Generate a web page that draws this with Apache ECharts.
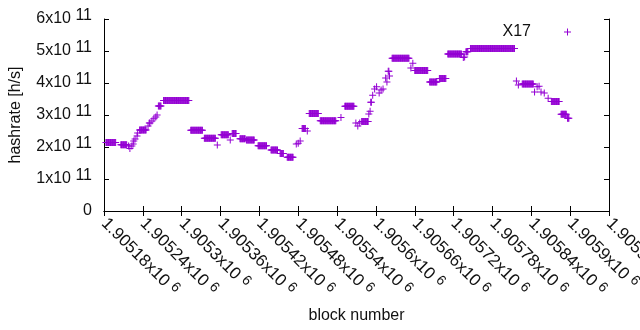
<!DOCTYPE html>
<html>
<head>
<meta charset="utf-8">
<script src="https://cdn.jsdelivr.net/npm/echarts@6/dist/echarts.min.js"></script>
<style>
  html, body { margin: 0; padding: 0; background: #fff; }
  #chart { width: 640px; height: 330px; }
</style>
</head>
<body>
<div id="chart"></div>
<script>
// hashrate runs: first block, last block, value in units of 1e11 h/s
var runStart = [1905183, 1905206, 1905218, 1905220, 1905223, 1905225, 1905226, 1905228, 1905231, 1905232,
    1905235, 1905248, 1905250, 1905254, 1905257, 1905260, 1905262, 1905264, 1905272, 1905314,
    1905335, 1905355, 1905361, 1905375, 1905378, 1905390, 1905400, 1905418, 1905438, 1905452,
    1905463, 1905477, 1905480, 1905483, 1905486, 1905494, 1905497, 1905514, 1905546, 1905552,
    1905569, 1905572, 1905575, 1905578, 1905589, 1905591, 1905592, 1905595, 1905598, 1905601,
    1905605, 1905608, 1905611, 1905615, 1905617, 1905619, 1905621, 1905625, 1905654, 1905657,
    1905660, 1905683, 1905698, 1905711, 1905735, 1905737, 1905739, 1905746, 1905817, 1905820,
    1905826, 1905845, 1905849, 1905852, 1905855, 1905860, 1905866, 1905871, 1905886, 1905896];
var runEnd = [1905198, 1905215, 1905218, 1905220, 1905223, 1905225, 1905226, 1905228, 1905231, 1905232,
    1905245, 1905248, 1905251, 1905254, 1905257, 1905260, 1905262, 1905268, 1905311, 1905332,
    1905352, 1905355, 1905372, 1905375, 1905384, 1905398, 1905412, 1905431, 1905448, 1905457,
    1905472, 1905477, 1905480, 1905483, 1905491, 1905494, 1905511, 1905538, 1905546, 1905566,
    1905569, 1905572, 1905575, 1905588, 1905589, 1905591, 1905593, 1905595, 1905598, 1905601,
    1905605, 1905608, 1905611, 1905615, 1905617, 1905620, 1905621, 1905651, 1905654, 1905657,
    1905680, 1905694, 1905708, 1905732, 1905735, 1905737, 1905742, 1905814, 1905817, 1905820,
    1905843, 1905845, 1905849, 1905852, 1905855, 1905860, 1905866, 1905883, 1905894, 1905898];
var runValue = [2.14, 2.07, 2.03, 1.95, 2.03, 2.09, 2.19, 2.25, 2.34, 2.44,
    2.53, 2.66, 2.75, 2.81, 2.88, 2.94, 3.0, 3.28, 3.45, 2.52,
    2.27, 2.06, 2.38, 2.22, 2.42, 2.26, 2.22, 2.04, 1.91, 1.80,
    1.68, 2.09, 2.12, 2.19, 2.58, 2.5, 3.05, 2.82, 2.92, 3.27,
    2.75, 2.66, 2.75, 2.8, 3.03, 3.12, 3.4, 3.62, 3.81, 3.88,
    3.69, 3.78, 3.81, 4.16, 4.03, 4.37, 4.22, 4.77, 4.47, 4.62,
    4.39, 4.03, 4.14, 4.91, 4.8, 4.81, 4.98, 5.08, 4.06, 3.94,
    3.97, 3.72, 3.88, 3.9, 3.72, 3.69, 3.52, 3.42, 3.02, 2.9];

var blockMin = 1905180, blockMax = 1905960, blockStep = 60;
var rateTicks = [0, 1, 2, 3, 4, 5, 6];

var points = [];
for (var i = 0; i < runStart.length; i++) {
    for (var b = runStart[i]; b <= runEnd[i]; b++) {
        points.push([b, runValue[i]]);
    }
}

var plus = 'path://M3,0h1v3h3v1h-3v3h-1v-3h-3v-1h3z';
var purple = '#9400d3';
var ink = '#111';
var font = 'Liberation Sans, Arial, sans-serif';

var chart = echarts.init(document.getElementById('chart'));
chart.setOption({
    animation: false,
    backgroundColor: '#fff',
    textStyle: { fontFamily: font },
    grid: { left: 104, right: 31, top: 19, bottom: 119, containLabel: false, outerBoundsMode: 'none' },
    legend: {
        data: ['X17'],
        right: 69,
        top: 24,
        padding: 0,
        align: 'right',
        icon: plus,
        itemWidth: 7,
        itemHeight: 7,
        textStyle: { fontSize: 16, color: ink, fontFamily: font, padding: [0, 28, 0, 0] }
    },
    xAxis: [{
        type: 'value',
        min: blockMin,
        max: blockMax,
        interval: blockStep,
        name: 'block number',
        nameLocation: 'middle',
        nameGap: 97,
        nameTextStyle: { fontSize: 16, color: ink, fontFamily: font },
        axisLine: { lineStyle: { color: '#000', width: 1 } },
        axisTick: { inside: true, length: 5, lineStyle: { color: '#000' } },
        splitLine: { show: false },
        axisLabel: {
            rotate: -45,
            margin: 10,
            color: ink,
            showMaxLabel: true,
            hideOverlap: false,
            formatter: function (v) {
                return '{m|' + (v / 1e6) + 'x10 }{s|6}';
            },
            rich: {
                m: { fontSize: 17, lineHeight: 20, color: ink, fontFamily: font },
                s: { fontSize: 14, lineHeight: 13, padding: [0, 0, 7, 0], color: ink, fontFamily: font }
            }
        }
    }, {
        type: 'value',
        position: 'top',
        min: blockMin,
        max: blockMax,
        interval: blockStep,
        axisLine: { show: true, lineStyle: { color: '#000', width: 1 } },
        axisTick: { inside: true, length: 5, lineStyle: { color: '#000' } },
        axisLabel: { show: false },
        splitLine: { show: false }
    }],
    yAxis: [{
        type: 'value',
        min: rateTicks[0],
        max: rateTicks[rateTicks.length - 1],
        interval: 1,
        name: 'hashrate [h/s]',
        nameLocation: 'middle',
        nameGap: 80,
        nameTextStyle: { fontSize: 16, color: ink, fontFamily: font },
        axisLine: { show: true, lineStyle: { color: '#000', width: 1 } },
        axisTick: { show: true, inside: true, length: 5, lineStyle: { color: '#000' } },
        splitLine: { show: false },
        axisLabel: {
            margin: 12,
            color: ink,
            formatter: function (v) {
                if (v === 0) return '{m|0}';
                return '{m|' + v + 'x10 }{s|11}';
            },
            rich: {
                m: { fontSize: 16, lineHeight: 20, color: ink, fontFamily: font },
                s: { fontSize: 16, lineHeight: 13, padding: [0, 0, 7, 0], color: ink, fontFamily: font }
            }
        }
    }, {
        type: 'value',
        position: 'right',
        min: rateTicks[0],
        max: rateTicks[rateTicks.length - 1],
        interval: 1,
        axisLine: { show: true, lineStyle: { color: '#000', width: 1 } },
        axisTick: { show: true, inside: true, length: 5, lineStyle: { color: '#000' } },
        axisLabel: { show: false },
        splitLine: { show: false }
    }],
    series: [{
        name: 'X17',
        type: 'scatter',
        symbol: plus,
        symbolSize: 7,
        itemStyle: { color: purple, opacity: 1 },
        silent: true,
        data: points
    }]
});
</script>
</body>
</html>
